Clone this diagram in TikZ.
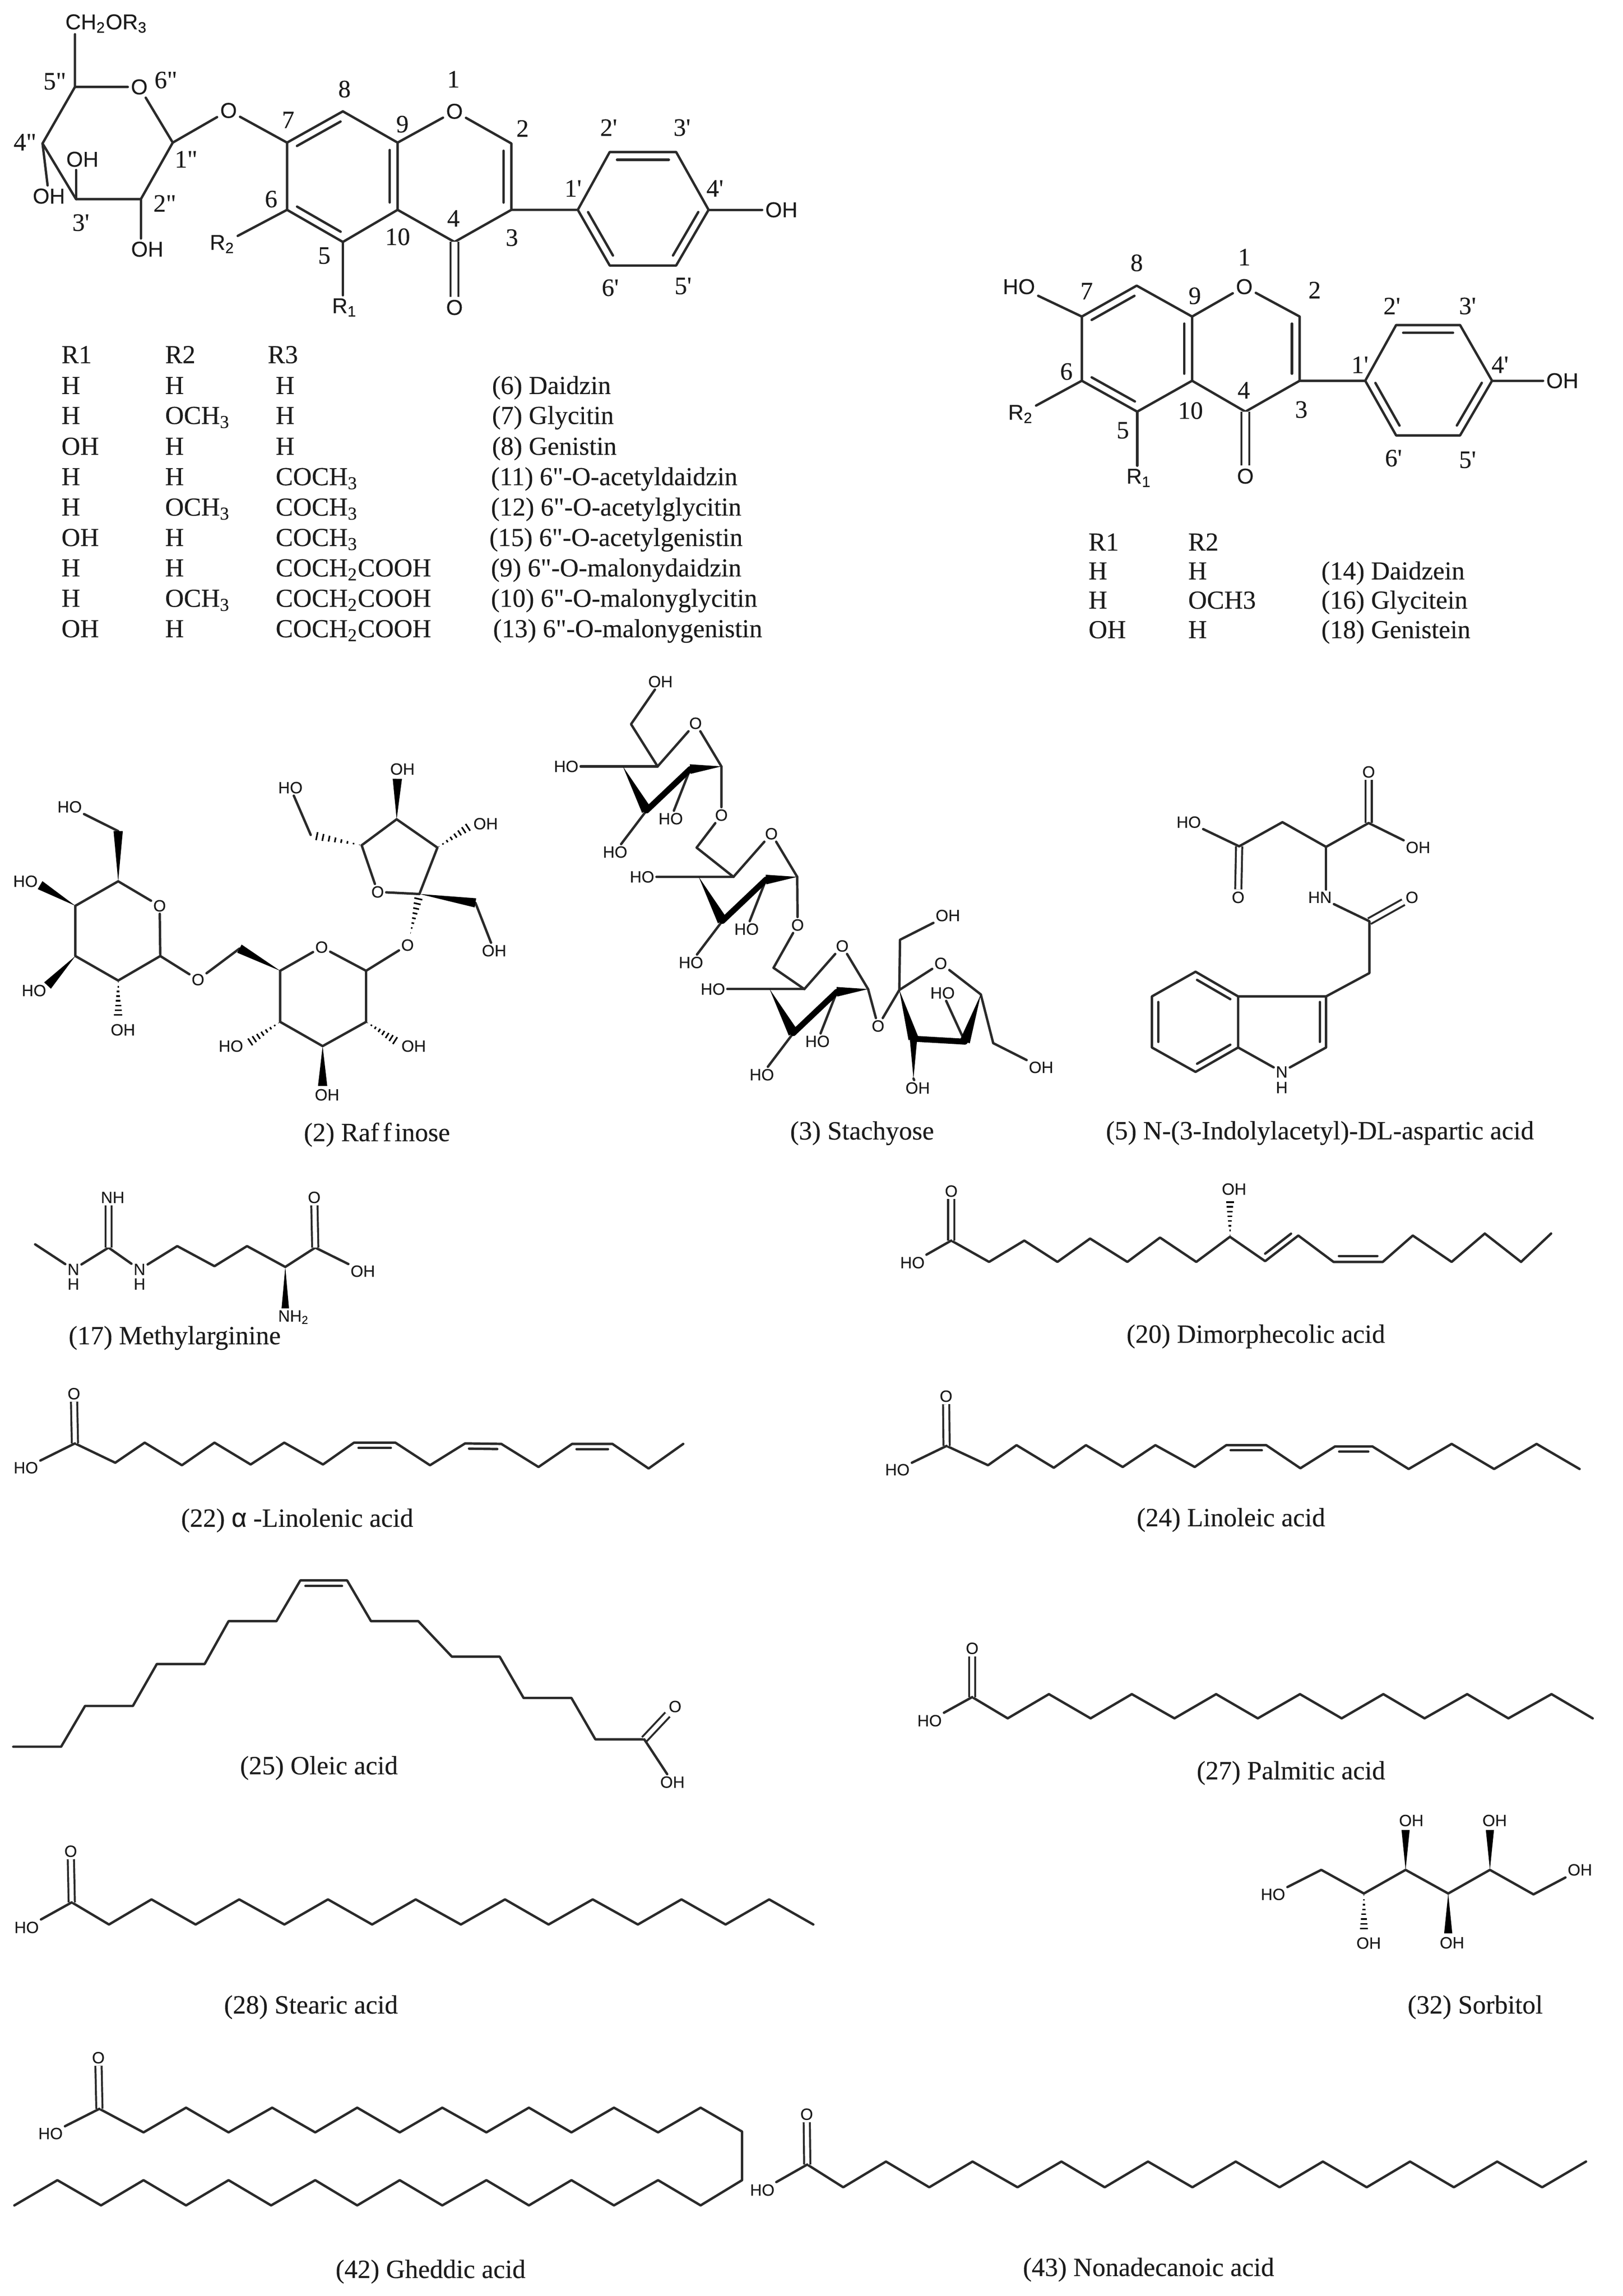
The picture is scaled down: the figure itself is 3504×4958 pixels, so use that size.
\documentclass[tikz,border=0pt]{standalone}
\usepackage{fontspec}
\usetikzlibrary{calc}
\newfontfamily\ser[FakeBold=0.2]{Liberation Serif}
\newfontfamily\snf[FakeBold=0.2]{Liberation Sans}
\definecolor{inkbond}{HTML}{2A2A2A}
\definecolor{inktext}{HTML}{1C1C1C}
\tikzset{
  zm/.style n args={4}{shift={(#1,#2)},x=#3,y=#4},
  bond/.style={draw=inkbond,line width=1.3pt,line cap=round,line join=round},
  dblbond/.style={draw=inkbond,line width=1.05pt,double=white,double distance=2.3pt},
  dblwide/.style={draw=inkbond,line width=1.1pt,double=white,double distance=3.1pt},
  band/.style={draw=black,line width=3.2pt,line cap=round,line join=round},
  atom/.style={font=\snf\fontsize{8.8}{10}\selectfont,text=inktext,inner sep=1pt},
  atomL/.style={font=\snf\fontsize{11.6}{13}\selectfont,text=inktext,inner sep=1.5pt},
  loc/.style={font=\ser\fontsize{13.5}{15}\selectfont,text=inktext,inner sep=0pt},
  tcell/.style={font=\ser\fontsize{14}{16}\selectfont,text=inktext,inner sep=0pt,anchor=base west},
  capt/.style={font=\ser\fontsize{14.2}{16}\selectfont,text=inktext,inner sep=0pt},
}
\newcommand\pts[1]{\foreach \n/\x/\y in {#1}{\coordinate (\n) at (\x,\y);}}
\newcommand\atoms[2][atom]{\foreach \n/\x/\y/\t in {#2}{\node[#1] (\n) at (\x,\y) {\t};}}
\newcommand\dblin[3]{\draw[bond] ($(#1)!.11!(#2)!#3!-90:(#2)$) -- ($(#2)!.11!(#1)!#3!90:(#1)$);}
\newcommand\wdg[3]{\fill[black] (#1) -- ($(#2)!#3!90:(#1)$) -- ($(#2)!#3!-90:(#1)$) -- cycle;}
\newcommand\hsh[3]{\foreach \t in {0.04,0.16,0.28,0.40,0.52,0.64,0.76,0.88,1.0}{\pgfmathsetmacro\dd{\t*#3}
  \draw[draw=black,line width=.85pt] ($(#1)!\t!(#2)!\dd pt!90:(#2)$) -- ($(#1)!\t!(#2)!\dd pt!-90:(#2)$);}}
\newcommand\chain[2]{\foreach \p [count=\i] in {#2}{\path \p coordinate (#1\i); \xdef\chainlen{\i}}
  \draw[bond] (#11) \foreach \i in {2,...,\chainlen}{ -- (#1\i)};}
\newcommand\tOme{OCH\textsubscript{3}}
\newcommand\tCoa{COCH\textsubscript{3}}
\newcommand\tMal{COCH\textsubscript{2}COOH}
\begin{document}
\begin{tikzpicture}[x=.25pt,y=-.25pt]
\fill[white] (0,0) rectangle (3504,4958);
\useasboundingbox (0,0) rectangle (3504,4958);

% ---------- glycoside isoflavone
\begin{scope}[zm={0}{0}{.28699pt}{-.23119pt}]
\pts{at/141/80,a5b/141/203,a1b/325/333,a2b/265/465,a3b/143/465,a4b/80/335,
 a7/540/333,a8/645/260,a9/748/333,a10/748/490,a5/645/565,a6/540/490,
 a2/962/335,a3/962/490,a4/855/565,
 b1/1087/490,b2/1147/355,b3/1272/355,b4/1333/490,b5/1272/620,b6/1147/620}
\atoms[atomL]{aT/200/55/CH\textsubscript{2}OR\textsubscript{3},aO6/262/203/O,aOHa/92/458/OH,aOHb/155/372/OH,aOHc/277/582/OH,
 aOg/430/258/O,aR2/418/570/R\textsubscript{2},aR1/648/718/R\textsubscript{1},aO1/855/260/O,aOk/855/718/O,aOHd/1470/490/OH}
\draw[bond] (at)--(a5b)--(aO6)--(a1b)--(a2b)--(a3b)--(a4b)--(a5b);
\draw[bond] (a4b)--(aOHa);
\draw[bond] (a3b)--(a3b |- aOHb.south);
\draw[bond] (a2b)--(a2b |- aOHc.north);
\draw[bond] (a1b)--(aOg)--(a7)--(a8)--(a9)--(a10)--(a5)--(a6)--(a7);
\draw[bond] (a6)--(aR2);
\draw[bond] (a5)--(a5 |- aR1.north);
\draw[bond] (a9)--(aO1)--(a2)--(a3)--(a4)--(a10);
\draw[dblwide] (a4)--(aOk);
\draw[bond] (a3)--(b1)--(b2)--(b3)--(b4)--(b5)--(b6)--(b1);
\draw[bond] (b4)--(aOHd);
\dblin{a7}{a8}{4.2pt}\dblin{a9}{a10}{4.2pt}\dblin{a5}{a6}{4.2pt}\dblin{a2}{a3}{4.2pt}
\dblin{b2}{b3}{4.2pt}\dblin{b4}{b5}{4.2pt}\dblin{b6}{b1}{4.2pt}
\atoms[loc]{la1/103/190/5",la2/312/187/6",la3/47/332/4",la4/350/372/1",la5/152/520/3',la6/310/475/2",
 la7/648/208/8,la8/853/185/1,la9/542/280/7,la10/757/290/9,la11/983/300/2,la12/1145/298/2',la13/1283/298/3',
 la14/1078/440/1',la15/1345/440/4',la16/510/465/6,la17/853/510/4,la18/748/553/10,la19/963/555/3,la20/610/597/5,
 la21/1148/672/6',la22/1285/668/5'}
\node[tcell] (tA1) at (115,848) {R1};
\node[tcell] (tA2) at (310,848) {R2};
\node[tcell] (tA3) at (503,848) {R3};
\foreach \yy/\ca/\cb/\cc/\cd/\xx [count=\i] in {
 900/H/H/H/{(6) Daidzin}/925,
 970/H/\tOme/H/{(7) Glycitin}/925,
 1042/OH/H/H/{(8) Genistin}/925,
 1113/H/H/\tCoa/{(11) 6"-O-acetyldaidzin}/923,
 1184/H/\tOme/\tCoa/{(12) 6"-O-acetylglycitin}/923,
 1255/OH/H/\tCoa/{(15) 6"-O-acetylgenistin}/920,
 1326/H/H/\tMal/{(9) 6"-O-malonydaidzin}/923,
 1397/H/\tOme/\tMal/{(10) 6"-O-malonyglycitin}/923,
 1468/OH/H/\tMal/{(13) 6"-O-malonygenistin}/927}{
 \node[tcell] (tAa\i) at (115,\yy+20) {\ca};
 \node[tcell] (tAb\i) at (310,\yy+20) {\cb};
 \node[tcell] (tAc\i) at (518,\yy+20) {\cc};
 \node[tcell] (tAd\i) at (\xx,\yy+20) {\cd};
}
\end{scope}

% ---------- aglycone isoflavone
\begin{scope}[zm={1700}{300}{.28763pt}{-.18335pt}]
\pts{c7/553/523,c8/656/432,c9/760/523,c10/760/712,c5/657/803,c6/553/712,
 c2/962/523,c3/962/712,c4/860/803,
 d1/1085/712,d2/1143/548,d3/1263/548,d4/1323/712,d5/1263/873,d6/1143/873}
\atoms[atomL]{cO1/858/435/O,cOk/860/993/O,cOH/1455/712/OH,cHO/435/435/HO,cR2/438/810/R\textsubscript{2},cR1/660/998/R\textsubscript{1}}
\draw[bond] (cHO)--(c7)--(c8)--(c9)--(c10)--(c5)--(c6)--(c7);
\draw[bond] (c6)--(cR2);
\draw[bond] (c5)--(c5 |- cR1.north);
\draw[bond] (c9)--(cO1)--(c2)--(c3)--(c4)--(c10);
\draw[dblwide] (c4)--(cOk);
\draw[bond] (c3)--(d1)--(d2)--(d3)--(d4)--(d5)--(d6)--(d1);
\draw[bond] (d4)--(cOH);
\dblin{c7}{c8}{4.2pt}\dblin{c9}{c10}{4.2pt}\dblin{c5}{c6}{4.2pt}\dblin{c2}{c3}{4.2pt}
\dblin{d2}{d3}{4.2pt}\dblin{d4}{d5}{4.2pt}\dblin{d6}{d1}{4.2pt}
\atoms[loc]{lc1/858/348/1,lc2/656/365/8,lc3/990/445/2,lc4/562/448/7,lc5/765/462/9,lc6/1135/492/2',lc7/1277/492/3',
 lc8/1075/665/1',lc9/1338/665/4',lc10/524/685/6,lc11/857/740/4,lc12/757/800/10,lc13/965/797/3,lc14/630/858/5,
 lc15/1138/940/6',lc16/1277/945/5'}
\node[tcell] (tB1) at (565,1212) {R1};
\node[tcell] (tB2) at (752,1212) {R2};
\foreach \yy/\ca/\cb/\cd [count=\i] in {1272/H/H/{(14) Daidzein},1358/H/OCH3/{(16) Glycitein},1445/OH/H/{(18) Genistein}}{
 \node[tcell] (tBa\i) at (565,\yy+25) {\ca};
 \node[tcell] (tBb\i) at (752,\yy+25) {\cb};
 \node[tcell] (tBd\i) at (1002,\yy+25) {\cd};
}
\end{scope}

% ---------- raffinose
\begin{scope}[zm={0}{1500}{.18335pt}{-.15944pt}]
\pts{r5/348/632,r1/472/885,r2/348/968,r3/222/885,r4/222/715,rC/348/462,
 rw4/118/645,rw3/140/985,rh2/348/1100,rCb/705/860,
 s5/825/935,s1/1078/935,s2/1078/1108,s3/950/1190,s4/825/1108,
 sh4/725/1185,sh2/1175/1180,sw3/950/1325,
 f2/1235/675,f5/1065/510,f4/1168/422,f3/1288/518,
 fh5c/915/475,fw4/1170/285,fh3/1390/440,fwC/1400/705,fhO/1208/812}
\atoms{rO/470/715/O,rHOa/205/380/HO,rHOb/75/632/HO,rHOc/100/1002/HO,rOHd/362/1135/OH,rOg/583/965/O,
 sO/947/855/O,sOg/1200/848/O,sHO/680/1190/HO,sOHa/1218/1190/OH,sOHb/963/1355/OH,
 fO/1112/668/O,fHO/855/315/HO,fOHa/1185/252/OH,fOHb/1430/437/OH,fOHc/1455/867/OH}
\draw[bond] (r5)--(rO)--(r1)--(r2)--(r3)--(r4)--(r5);
\draw[bond] (rC)--(rHOa);
\draw[bond] (r1)--(rOg)--(rCb);
\draw[bond] (s5)--(sO)--(s1)--(s2)--(s3)--(s4)--(s5);
\draw[bond] (s1)--(sOg);
\draw[bond] (f2)--(fO)--(f5)--(f4)--(f3)--(f2);
\draw[bond] (fh5c)--(fHO);
\draw[bond] (fwC)--(fOHc);
\wdg{r5}{rC}{2.5pt}\wdg{r4}{rw4}{2.5pt}\wdg{r3}{rw3}{2.5pt}\wdg{s5}{rCb}{2.5pt}\wdg{s3}{sw3}{2.5pt}\wdg{f4}{fw4}{2.5pt}\wdg{f2}{fwC}{2.5pt}
\hsh{r2}{rh2}{2.5}\hsh{s4}{sh4}{2.5}\hsh{s2}{sh2}{2.5}\hsh{f5}{fh5c}{2.5}\hsh{f3}{fh3}{2.5}\hsh{fhO}{f2}{2.5}
\node[capt] (cap2) at (1110,1490) {(2) Raf\hspace{2pt}f\hspace{1.6pt}inose};
\end{scope}

% ---------- stachyose
\begin{scope}[zm={1150}{1500}{.19133pt}{-.15944pt}]
\foreach \u/\dx/\dy in {s/0/0,t/214/374,v/414/754}{
 \node[atom] (\u qO) at (\dx+460,\dy+97) {O};
 \node[atom] (\u qHa) at (\dx+95,\dy+243) {HO};
 \node[atom] (\u qHb) at (\dx+390,\dy+420) {HO};
 \node[atom] (\u qHc) at (\dx+233,\dy+533) {HO};
 \coordinate (\u qa) at (\dx+533,\dy+243);
 \coordinate (\u qb) at (\dx+445,\dy+252);
 \coordinate (\u qc) at (\dx+322,\dy+392);
 \coordinate (\u qd) at (\dx+255,\dy+243);
 \coordinate (\u qe) at (\dx+353,\dy+243);
 \draw[bond] (\u qe)--(\u qO)--(\u qa);
 \draw[bond] (\u qHa)--(\u qd)--(\u qe);
 \draw[bond] (\u qb)--(\u qHb);
 \draw[bond] (\u qc)--(\u qHc);
 \wdg{\u qa}{\u qb}{2.6pt}
 \wdg{\u qd}{\u qc}{2.8pt}
 \draw[band] (\u qb)--(\u qc);
}
\pts{qm1/278/100,qm2/463/518,qm3/680/925,wq/1035/1000,wCH/1037/830,wc/1075/1165,wd/1220/1175,we/1265/1015,wf/1300/1180,wk/1075/1300}
\atoms{qOH/361/-44/OH,qL1/533/408/O,qL2/748/780/O,qL3/975/1122/O,wOH/1172/748/OH,wO/1152/910/O,wHO/1157/1010/HO,wOHb/1435/1262/OH,wOHc/1087/1332/OH}
\draw[bond] (qOH)--(qm1)--(sqe);
\draw[bond] (sqa)--(qL1)--(qm2)--(tqe);
\draw[bond] (tqa)--(qL2)--(qm3)--(vqe);
\draw[bond] (vqa)--(qL3)--(wq)--(wCH)--(wOH);
\draw[bond] (wq)--(wO)--(we)--(wf)--(wOHb);
\draw[bond] (wd)--(wHO);
\draw[bond] (wk)--(wOHc);
\wdg{wq}{wc}{2.8pt}\wdg{we}{wd}{2.8pt}\wdg{wk}{wc}{2pt}
\draw[band] (wc)--(wd);
\node[capt] (cap3) at (930,1485) {(3) Stachyose};
\end{scope}

% ---------- N-(3-indolylacetyl)-DL-aspartic acid
\begin{scope}[zm={2350}{1550}{.18399pt}{-.15147pt}]
\pts{i1/823/375,i2/698/460,i3/570/372,i4/443/458,i5/825/725,i6/825/910,
 j3/698/993,j3a/440/993,j4/315/905,j5/187/993,j6/187/1175,j7/315/1262,j7a/440/1175,j2/698/1175}
\atoms{iOa/823/193/O,iHO/295/372/HO,iOb/440/640/O,iOH/968/462/OH,iHN/680/640/HN,iOc/950/640/O,jN/568/1262/N,jH/568/1318/H}
\draw[dblbond] (i1)--(iOa);
\draw[dblbond] (i4)--(iOb);
\draw[dblbond] (i5)--(iOc);
\draw[bond] (iOH)--(i1)--(i2)--(i3)--(i4)--(iHO);
\draw[bond] (i2)--(i2 |- iHN.north);
\draw[bond] (iHN)--(i5)--(i6)--(j3)--(j3a)--(j4)--(j5)--(j6)--(j7)--(j7a)--(j3a);
\draw[bond] (j3)--(j2)--(jN)--(j7a);
\dblin{j4}{j3a}{3.4pt}\dblin{j7a}{j7}{3.4pt}\dblin{j6}{j5}{3.4pt}\dblin{j3}{j2}{3.4pt}
\node[capt] (cap5) at (680,1480) {(5) N-(3-Indolylacetyl)-DL-aspartic acid};
\end{scope}

% ---------- methylarginine and alpha-linolenic acid
\begin{scope}[zm={0}{2500}{.27902pt}{-.13552pt}]
\pts{m0/68/345,m1/210/358,m2/343/352,m3/415/432,m4/478/352,m5/552/435,m6/610/358,mw/552/600}
\atoms{mN1/142/445/N,mH1/142/503/H,mN2/270/445/N,mH2/270/503/H,mNH/218/158/NH,mO/608/158/O,mOH/702/452/OH,mNH2/568/635/NH\textsubscript{2}}
\draw[bond] (m0)--(mN1)--(m1)--(mN2)--(m2)--(m3)--(m4)--(m5)--(m6)--(mOH);
\draw[dblbond] (m1)--(m1 |- mNH.south);
\draw[dblbond] (m6)--(mO);
\wdg{m5}{mw}{2pt}
\node[capt] (cap17) at (338,718) {(17) Methylarginine};
\chain{la}{(145,1138),(223,1215),(280,1135),(352,1225),(415,1135),(485,1222),(550,1135),(625,1222),(685,1135),(765,1135),(832,1225),(900,1138),(970,1140),(1042,1232),(1107,1140),(1185,1140),(1255,1238),(1322,1140)}
\atoms{laO/143/940/O,laHO/50/1235/HO}
\draw[dblbond] (la1)--(laO);
\draw[bond] (la1)--(laHO);
\dblin{la9}{la10}{2.8pt}\dblin{la12}{la13}{2.8pt}\dblin{la15}{la16}{2.8pt}
\node[capt] (cap22) at (575,1445) {(22) {\snf α} -Linolenic acid};
\end{scope}

% ---------- dimorphecolic and linoleic acid
\begin{scope}[zm={1750}{2500}{.27966pt}{-.13552pt}]
\chain{dm}{(272,330),(345,415),(413,330),(477,415),(540,322),(612,415),(675,318),(745,415),(810,315),(878,412),(942,310),(1010,415),(1105,415),(1163,310),(1238,415),(1302,302),(1372,415),(1430,302)}
\pts{dmh/810/158}
\atoms{dmO/272/133/O,dmHO/197/418/HO,dmOH/818/125/OH}
\draw[dblbond] (dm1)--(dmO);
\draw[bond] (dm1)--(dmHO);
\hsh{dm9}{dmh}{2.4}
\dblin{dm11}{dm10}{3.2pt}\dblin{dm13}{dm12}{3.2pt}
\node[capt] (cap20) at (860,712) {(20) Dimorphecolic acid};
\chain{lo}{(263,1148),(343,1225),(398,1145),(470,1235),(532,1145),(603,1232),(666,1145),(742,1232),(803,1145),(880,1145),(946,1237),(1013,1150),(1085,1150),(1155,1240),(1238,1140),(1320,1240),(1402,1140),(1485,1240)}
\atoms{loO/262/950/O,loHO/168/1243/HO}
\draw[dblbond] (lo1)--(loO);
\draw[bond] (lo1)--(loHO);
\dblin{lo9}{lo10}{2.8pt}\dblin{lo12}{lo13}{2.8pt}
\node[capt] (cap24) at (812,1443) {(24) Linoleic acid};
\end{scope}

% ---------- oleic and stearic acid
\begin{scope}[zm={0}{3400}{.28699pt}{-.15944pt}]
\chain{ol}{(25,583),(115,583),(160,445),(250,445),(295,303),(385,303),(430,158),(520,158),(565,20),(653,20),(698,158),(787,158),(850,278),(940,278),(985,418),(1075,418),(1120,558),(1212,558)}
\atoms{olO/1270/447/O,olOH/1265/703/OH}
\draw[dblbond] (ol18)--(olO);
\draw[bond] (ol18)--(olOH);
\dblin{ol9}{ol10}{3pt}
\node[capt] (cap25) at (600,655) {(25) Oleic acid};
\chain{st}{(135,1110),(205,1185),(285,1100),(368,1185),(450,1100),(535,1185),(617,1100),(700,1185),(782,1100),(867,1185),(950,1100),(1032,1185),(1115,1100),(1200,1185),(1282,1100),(1365,1185),(1447,1100),(1530,1185)}
\atoms{stO/133/937/O,stHO/50/1195/HO}
\draw[dblbond] (st1)--(stO);
\draw[bond] (st1)--(stHO);
\node[capt] (cap28) at (585,1465) {(28) Stearic acid};
\end{scope}

% ---------- palmitic acid and sorbitol
\begin{scope}[zm={1900}{3400}{.25574pt}{-.15944pt}]
\chain{pa}{(195,415),(270,487),(357,405),(445,487),(532,405),(622,487),(710,405),(798,487),(887,405),(975,487),(1063,405),(1150,487),(1240,405),(1327,487),(1418,405),(1505,487)}
\atoms{paO/195/250/O,paHO/105/495/HO}
\draw[dblbond] (pa1)--(paO);
\draw[bond] (pa1)--(paHO);
\node[capt] (cap27) at (868,672) {(27) Palmitic acid};
\pts{so1/932/1000,so2/1022/1080,so3/1110/1000,so4/1200/1080,so5/1288/1000,so6/1380/1083,
 soa/1022/1215,sob/1110/865,soc/1200/1215,sod/1288/865}
\atoms{soHO/830/1083/HO,soOH/1478/1000/OH,soOa/1032/1248/OH,soOb/1122/833/OH,soOc/1208/1247/OH,soOd/1298/833/OH}
\draw[bond] (soHO)--(so1)--(so2)--(so3)--(so4)--(so5)--(so6)--(soOH);
\hsh{so2}{soa}{2.4}
\wdg{so3}{sob}{2.2pt}\wdg{so4}{soc}{2.2pt}\wdg{so5}{sod}{2.2pt}
\node[capt] (cap32) at (1257,1465) {(32) Sorbitol};
\end{scope}

% ---------- gheddic acid
\begin{scope}[zm={0}{4400}{.28699pt}{-.08897pt}]
\chain{gh}{(187,432),(270,575),(350,425),(430,575),(512,425),(593,575),(672,425),(752,575),(832,425),(915,575),(995,425),(1075,575),(1155,425),(1238,575),(1318,425),(1396,570),(1396,865),(1318,1018),(1238,865),(1155,1018),(1075,865),(995,1018),(915,865),(832,1018),(752,865),(672,1018),(593,865),(510,1018),(430,865),(350,1018),(270,865),(190,1018),(108,865),(27,1018)}
\atoms{ghO/185/122/O,ghHO/95/582/HO}
\draw[dblbond] (gh1)--(ghO);
\draw[bond] (gh1)--(ghHO);
\node[capt] (cap42) at (810,1420) {(42) Gheddic acid};
\end{scope}

% ---------- nonadecanoic acid
\begin{scope}[zm={1600}{4400}{.30357pt}{-.08897pt}]
\chain{no}{(118,770),(182,908),(258,752),(335,908),(412,752),(492,908),(570,752),(647,908),(724,752),(803,908),(880,752),(958,908),(1035,752),(1113,908),(1190,752),(1268,908),(1345,752),(1425,908),(1503,752)}
\atoms{noO/117/465/O,noHO/38/925/HO}
\draw[dblbond] (no1)--(noO);
\draw[bond] (no1)--(noHO);
\node[capt] (cap43) at (725,1408) {(43) Nonadecanoic acid};
\end{scope}
\end{tikzpicture}
\end{document}
